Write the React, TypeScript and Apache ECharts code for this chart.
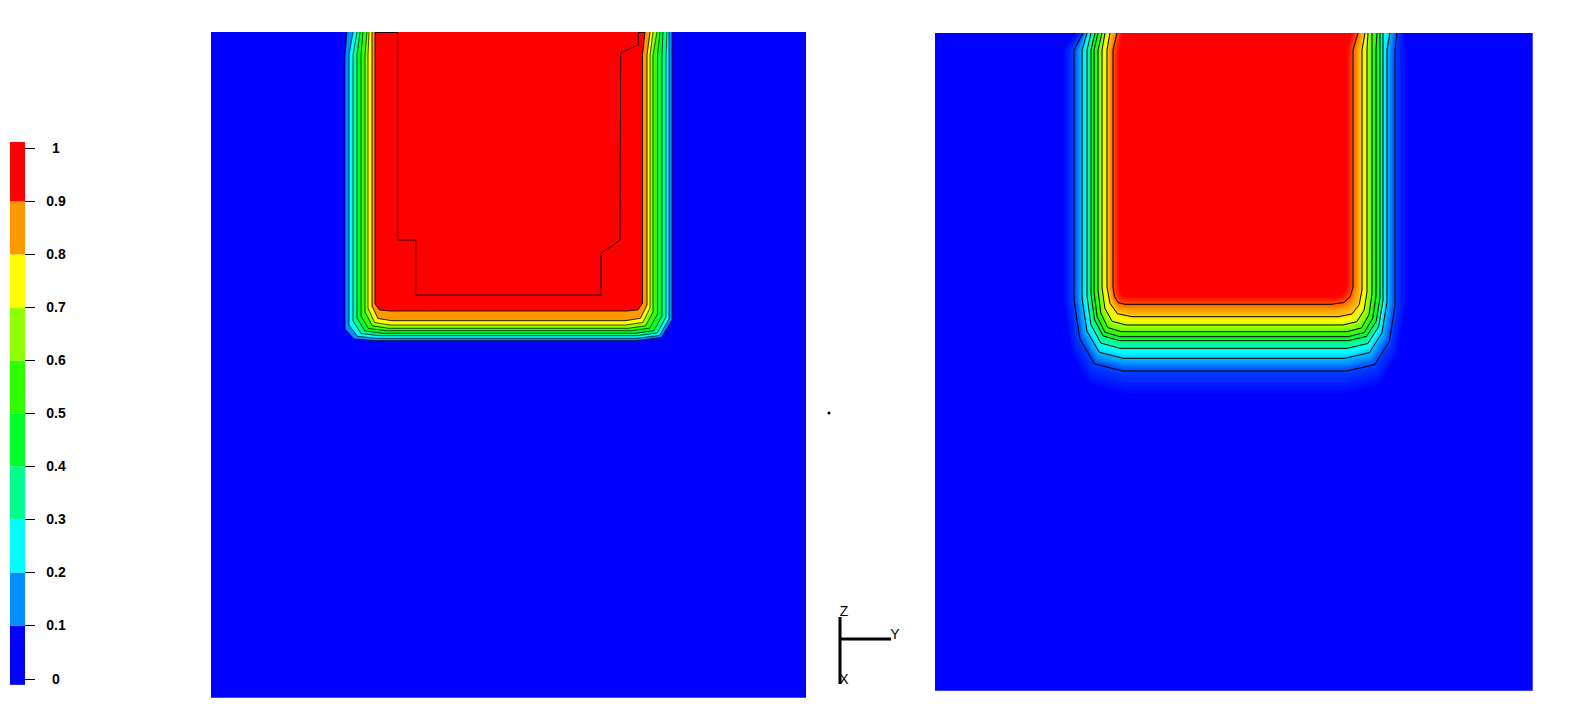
import React, { useEffect, useRef } from "react";
import * as echarts from "echarts";

// Legend
const legendColors = ["#0000ff", "#0090ff", "#00ffff", "#00ff90", "#00ff2a", "#30ff00", "#90ff00", "#ffff00", "#ff9900", "#ff0000"];
const legendEdges = [-0.012, 0.1, 0.2, 0.3, 0.4, 0.5, 0.6, 0.7, 0.8, 0.9, 1.012];
const legendTicks = [0, 0.1, 0.2, 0.3, 0.4, 0.5, 0.6, 0.7, 0.8, 0.9, 1];

// Left panel contours, levels 0.1 ... 0.9, read in image pixels
const leftTopL = [347, 353, 357, 360, 363, 367, 369, 372, 375];
const leftMidL = [345, 349, 353, 357, 361, 365, 368, 372, 375];
const leftBendL = [329, 325, 321, 318, 316, 312, 308, 306, 304];
const leftCornerL = [30, 28, 27, 26, 25, 24, 22, 20, 15];
const leftBottom = [340.7, 338.3, 335.7, 333.3, 330.7, 328.3, 325, 320.7, 311];
const leftMidR = [672, 669, 666, 662, 657.5, 653, 650, 647, 642.5];
const leftTopR = [672, 669, 667, 663, 660, 657, 653, 650, 645];
const leftBendR = [320, 319, 317, 316, 314, 312, 308, 305, 303];
const leftCornerR = [36, 32, 29, 27, 26, 25, 24, 22, 15];
const leftInnerLine = [[375, 32.5], [397.7, 32.5], [397.7, 240], [415.7, 240], [415.7, 295], [601, 295], [601, 253.3], [620, 240], [620.7, 52.7], [638.3, 45], [638.3, 32.5], [645, 32.5]];

// Right panel contours, levels 0.05, 0.1 ... 0.9, 0.95
const rightLevels = [0.05, 0.1, 0.2, 0.3, 0.4, 0.5, 0.6, 0.7, 0.8, 0.9, 0.95];
const rightTopL = [1074, 1083, 1087, 1091, 1095, 1098, 1102, 1105, 1110, 1117, 1123];
const rightMidL = [1062, 1074, 1082, 1087, 1091, 1094, 1098, 1102, 1107, 1113, 1119];
const rightBendL = [300, 300, 298, 296, 294, 292, 290, 288, 287, 287, 283];
const rightCornerL = [64, 49, 41, 33, 29, 26, 23, 24, 25, 12, 8];
const rightBottom = [397, 371, 358.3, 348.3, 340.7, 336.7, 331.7, 325, 316.7, 304.3, 297];
const rightMidR = [1407, 1395, 1387, 1383, 1380, 1376, 1372, 1367, 1362, 1353, 1347];
const rightTopR = [1406, 1397, 1390, 1383, 1380, 1377, 1372, 1368, 1365, 1358, 1352];
const rightBendR = [305, 306, 302, 300, 298, 296, 294, 292, 290, 287, 283];
const rightCornerR = [64, 48, 42, 36, 32, 28, 25, 24, 24, 22, 14];

const contour = (
  k: number, topY: number, topBend: number,
  topL: number[], midL: number[], bendL: number[], cornL: number[],
  bottom: number[], midR: number[], topR: number[], bendR: number[], cornR: number[],
  frac: number[][]
) => {
  const pts: number[][] = [[topL[k], topY - 4], [topL[k], topY], [midL[k], topBend], [midL[k], bendL[k]]];
  const hL = bottom[k] - bendL[k];
  const hR = bottom[k] - bendR[k];
  frac.forEach(([fx, fy]) => pts.push([midL[k] + fx * cornL[k], bendL[k] + fy * hL]));
  pts.push([midL[k] + cornL[k], bottom[k]]);
  pts.push([midR[k] - cornR[k], bottom[k]]);
  [...frac].reverse().forEach(([fx, fy]) => pts.push([midR[k] - fx * cornR[k], bendR[k] + fy * hR]));
  pts.push([midR[k], bendR[k]], [midR[k], topBend], [topR[k], topY], [topR[k], topY - 4]);
  return pts;
};

const leftContours = leftMidL.map((_, k) =>
  contour(k, 32, 55, leftTopL, leftMidL, leftBendL, leftCornerL, leftBottom, leftMidR, leftTopR, leftBendR, leftCornerR, [[0.3, 0.85]])
);
const rightContours = rightMidL.map((_, k) =>
  contour(k, 33, 50, rightTopL, rightMidL, rightBendL, rightCornerL, rightBottom, rightMidR, rightTopR, rightBendR, rightCornerR, [[0.12, 0.55], [0.42, 0.9]])
);

const hexRgb = (h: string) => [1, 3, 5].map((i) => parseInt(h.slice(i, i + 2), 16));
const colorAt = (v: number) => {
  const p = Math.min(8.999, Math.max(0, v * 10 - 0.5));
  const i = Math.floor(p);
  const a = hexRgb(legendColors[i]);
  const b = hexRgb(legendColors[i + 1]);
  const t = p - i;
  return `rgb(${a.map((c, j) => Math.round(c + (b[j] - c) * t)).join(",")})`;
};

// Shading of the right panel: colour ramps between neighbouring contours
const SHADE_STEPS = 7;
const rightShades: { pts: number[][]; fill: string }[] = [];
rightContours.forEach((c, k) => {
  if (k === rightContours.length - 1) {
    rightShades.push({ pts: c, fill: legendColors[9] });
    return;
  }
  for (let s = 0; s < SHADE_STEPS; s++) {
    const t = s / SHADE_STEPS;
    rightShades.push({
      pts: c.map((p, i) => [p[0] + (rightContours[k + 1][i][0] - p[0]) * t, p[1] + (rightContours[k + 1][i][1] - p[1]) * t]),
      fill: colorAt(rightLevels[k] + (rightLevels[k + 1] - rightLevels[k]) * t),
    });
  }
});

const polygonSeries = (
  gridIndex: number,
  items: { pts: number[][]; fill: string; stroke?: string; open?: boolean }[]
) => ({
  type: "custom",
  coordinateSystem: "cartesian2d",
  xAxisIndex: gridIndex,
  yAxisIndex: gridIndex,
  clip: true,
  silent: true,
  data: items.map((_, i) => [i]),
  encode: { x: 0 },
  renderItem: (params: any, api: any) => {
    const it = items[params.dataIndex];
    return {
      type: it.open ? "polyline" : "polygon",
      shape: { points: it.pts.map((p) => api.coord(p)) },
      style: it.open
        ? { fill: "none", stroke: it.stroke, lineWidth: 1 }
        : { fill: it.fill, stroke: it.stroke || "none", lineWidth: it.stroke ? 1 : 0 },
    };
  },
});

export default function App() {
  const ref = useRef<HTMLDivElement>(null);
  useEffect(() => {
    document.body.style.margin = "0";
    const chart = echarts.init(ref.current!, undefined, { renderer: "svg" });
    const hidden = { show: false };
    const bandData = legendColors.map((_, i) => [0, legendEdges[i], legendEdges[i + 1]]);
    chart.setOption({
      animation: false,
      backgroundColor: "#ffffff",
      grid: [
        { left: 10, top: 148.4, width: 15, height: 530.1 },
        { left: 211, top: 32, width: 595, height: 665.7, show: true, backgroundColor: "#0000ff", borderWidth: 0 },
        { left: 935, top: 33, width: 597.7, height: 657.7, show: true, backgroundColor: "#0000ff", borderWidth: 0 },
      ],
      xAxis: [
        { gridIndex: 0, type: "value", min: 0, max: 1, ...hidden },
        { gridIndex: 1, type: "value", min: 211, max: 806, ...hidden },
        { gridIndex: 2, type: "value", min: 935, max: 1532.7, ...hidden },
      ],
      yAxis: [
        {
          gridIndex: 0, type: "value", min: 0, max: 1, interval: 0.1, position: "right",
          axisLine: { show: false },
          axisTick: { show: false },
          splitLine: { show: false },
          axisLabel: { margin: 31, align: "center", color: "#000", fontFamily: "Liberation Sans", fontSize: 14, fontWeight: "bold", padding: [2, 0, 0, 0] },
        },
        { gridIndex: 1, type: "value", min: 32, max: 697.7, inverse: true, ...hidden },
        { gridIndex: 2, type: "value", min: 33, max: 690.7, inverse: true, ...hidden },
      ],
      series: [
        {
          type: "custom", coordinateSystem: "cartesian2d", xAxisIndex: 0, yAxisIndex: 0, clip: false, silent: true,
          data: bandData, encode: { x: 0, y: [1, 2] },
          renderItem: (params: any, api: any) => {
            const a = api.coord([0, api.value(1)]);
            const b = api.coord([1, api.value(2)]);
            return { type: "rect", shape: { x: a[0], y: b[1], width: b[0] - a[0], height: a[1] - b[1] }, style: { fill: legendColors[params.dataIndex] } };
          },
        },
        {
          type: "custom", coordinateSystem: "cartesian2d", xAxisIndex: 0, yAxisIndex: 0, clip: false, silent: true,
          data: legendTicks.map((v) => [1, v]), encode: { x: 0, y: 1 },
          renderItem: (_: any, api: any) => {
            const p = api.coord([1, api.value(1)]);
            const y = Math.round(p[1]) + 0.5;
            return { type: "line", shape: { x1: p[0], y1: y, x2: p[0] + 10, y2: y }, style: { stroke: "#000", lineWidth: 1 } };
          },
        },
        polygonSeries(1, leftContours.map((pts, k) => ({ pts, fill: legendColors[k + 1], stroke: k >= 7 ? "rgba(0,0,0,0.85)" : "rgba(0,0,0,0.7)" }))),
        polygonSeries(1, [{ pts: leftInnerLine, fill: "none", stroke: "rgba(0,0,0,0.85)", open: true }]),
        polygonSeries(2, rightShades),
        polygonSeries(2, rightContours.slice(1, -1).map((pts) => ({ pts, fill: "none", stroke: "#000000" }))),
      ],
      graphic: [
        { type: "line", shape: { x1: 840, y1: 617, x2: 840, y2: 684 }, style: { stroke: "#000", lineWidth: 3 } },
        { type: "line", shape: { x1: 840, y1: 639, x2: 891, y2: 639 }, style: { stroke: "#000", lineWidth: 3 } },
        { type: "text", x: 844, y: 611, style: { text: "Z", fontFamily: "Liberation Sans", fontSize: 14, fill: "#000", align: "center", verticalAlign: "middle" } },
        { type: "text", x: 895, y: 634, style: { text: "Y", fontFamily: "Liberation Sans", fontSize: 14, fill: "#000", align: "center", verticalAlign: "middle" } },
        { type: "text", x: 844, y: 679, style: { text: "X", fontFamily: "Liberation Sans", fontSize: 14, fill: "#000", align: "center", verticalAlign: "middle" } },
        { type: "circle", shape: { cx: 829, cy: 413, r: 1.5 }, style: { fill: "#000" } },
      ],
    });
    return () => chart.dispose();
  }, []);
  return <div ref={ref} style={{ width: 1583, height: 712 }} />;
}
